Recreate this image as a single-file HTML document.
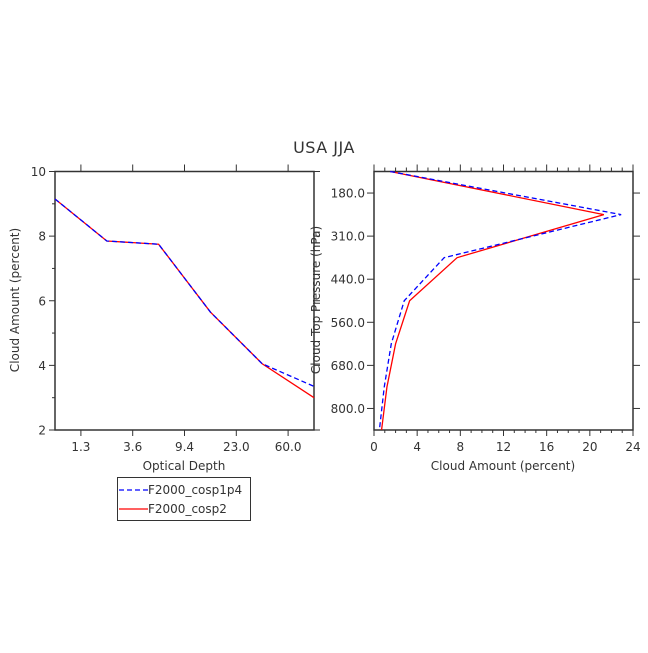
<!DOCTYPE html>
<html><head><meta charset="utf-8"><style>
body{margin:0;background:#fff}
text{font-family:"DejaVu Sans","Liberation Sans",sans-serif;fill:#333}
</style></head><body>
<svg id="c" width="648" height="648" viewBox="0 0 648 648">
<rect width="648" height="648" fill="#fff"/>
<text x="324" y="153" font-size="16" text-anchor="middle" letter-spacing="0.5">USA JJA</text>
<g id="g"></g>
</svg>
<script>
const tauLabels=["1.3","3.6","9.4","23.0","60.0"];
const tauBlue=[9.15,7.85,7.75,5.65,4.05,3.35];
const tauRed=[9.15,7.85,7.75,5.65,4.05,3.0];
const leftYTicks=[2,4,6,8,10];
const presLabels=["180.0","310.0","440.0","560.0","680.0","800.0"];
const presBlue=[1.5,22.9,6.5,2.8,1.6,0.95,0.5];
const presRed=[1.5,21.3,7.7,3.3,2.0,1.2,0.7];
const rightXTicks=[0,4,8,12,16,20,24];

const NS="http://www.w3.org/2000/svg";
const g=document.getElementById('g');
function el(t,a,txt){const e=document.createElementNS(NS,t);for(const k in a)e.setAttribute(k,a[k]);if(txt!==undefined)e.textContent=txt;g.appendChild(e);return e;}
const T=171.5,B=430;
// left panel
const L1=55,R1=314;
const lx=i=>L1+i*(R1-L1)/(tauBlue.length-1);
const ly=v=>B-(v-2)/8*(B-T);
const f1=el('rect',{x:L1,y:T,width:R1-L1,height:B-T,fill:'none',stroke:'#333','stroke-width':1.5});


leftYTicks.forEach(v=>{const y=ly(v);
 el('line',{x1:L1-6,x2:L1,y1:y,y2:y,stroke:'#333'});
 el('line',{x1:R1,x2:R1+6,y1:y,y2:y,stroke:'#333'});
 const t=el('text',{x:L1-9,y:y+4.5,'font-size':12,'text-anchor':'end'},String(v));
 
 
 if(v<10){const ym=ly(v+1);el('line',{x1:L1-3,x2:L1,y1:ym,y2:ym,stroke:'#333'});}
});
tauLabels.forEach((s,i)=>{const x=lx(i+0.5);
 el('line',{x1:x,x2:x,y1:B,y2:B+6,stroke:'#333'});
 el('line',{x1:x,x2:x,y1:T-7,y2:T,stroke:'#333'});
 const t=el('text',{x:x,y:B+21,'font-size':12,'text-anchor':'middle'},s);
 
 
});
let t=el('text',{x:184,y:470,'font-size':12,'text-anchor':'middle'},'Optical Depth');


t=el('text',{x:0,y:0,'font-size':12,'text-anchor':'middle',transform:'translate(19,300) rotate(-90)'},'Cloud Amount (percent)');


let p=el('polyline',{points:tauRed.map((v,i)=>lx(i)+','+ly(v)).join(' '),fill:'none',stroke:'#f00','stroke-width':1.3});


p=el('polyline',{points:tauBlue.map((v,i)=>lx(i)+','+ly(v)).join(' '),fill:'none',stroke:'#00f','stroke-width':1.3,'stroke-dasharray':'5,3'});


// right panel
const L2=374,R2=633;
const rx=v=>L2+v/24*(R2-L2);
const ry=i=>T+i*(B-T)/(presBlue.length-1);
const f2=el('rect',{x:L2,y:T,width:R2-L2,height:B-T,fill:'none',stroke:'#333','stroke-width':1.5});


for(let v=0;v<=24;v++){const x=rx(v);const maj=v%4===0;
 el('line',{x1:x,x2:x,y1:B,y2:B+(maj?6:3),stroke:'#333'});
 el('line',{x1:x,x2:x,y1:T-(maj?7:4),y2:T,stroke:'#333'});}
rightXTicks.forEach(v=>{const tt=el('text',{x:rx(v),y:B+21,'font-size':12,'text-anchor':'middle'},String(v));
 
 });
presLabels.forEach((s,i)=>{const y=ry(i+0.5);
 el('line',{x1:L2-7,x2:L2,y1:y,y2:y,stroke:'#333'});
 el('line',{x1:R2,x2:R2+7,y1:y,y2:y,stroke:'#333'});
 const tt=el('text',{x:L2-9,y:y+4.5,'font-size':12,'text-anchor':'end'},s);
 
 });
t=el('text',{x:503,y:470,'font-size':12,'text-anchor':'middle'},'Cloud Amount (percent)');


t=el('text',{x:0,y:0,'font-size':12,'text-anchor':'middle',transform:'translate(320,300) rotate(-90)'},'Cloud Top Pressure (hPa)');


p=el('polyline',{points:presRed.map((v,i)=>rx(v)+','+ry(i)).join(' '),fill:'none',stroke:'#f00','stroke-width':1.3});


p=el('polyline',{points:presBlue.map((v,i)=>rx(v)+','+ry(i)).join(' '),fill:'none',stroke:'#00f','stroke-width':1.3,'stroke-dasharray':'5,3'});


// legend
const lg=el('rect',{x:117.5,y:477.5,width:133,height:43,fill:'#fff',stroke:'#333'});


el('line',{x1:119,x2:148,y1:490,y2:490,stroke:'#00f','stroke-width':1.3,'stroke-dasharray':'5,3'});
t=el('text',{x:148,y:494,'font-size':12},'F2000_cosp1p4');


el('line',{x1:119,x2:148,y1:509,y2:509,stroke:'#f00','stroke-width':1.3});
t=el('text',{x:148,y:513,'font-size':12},'F2000_cosp2');


</script>
</body></html>
